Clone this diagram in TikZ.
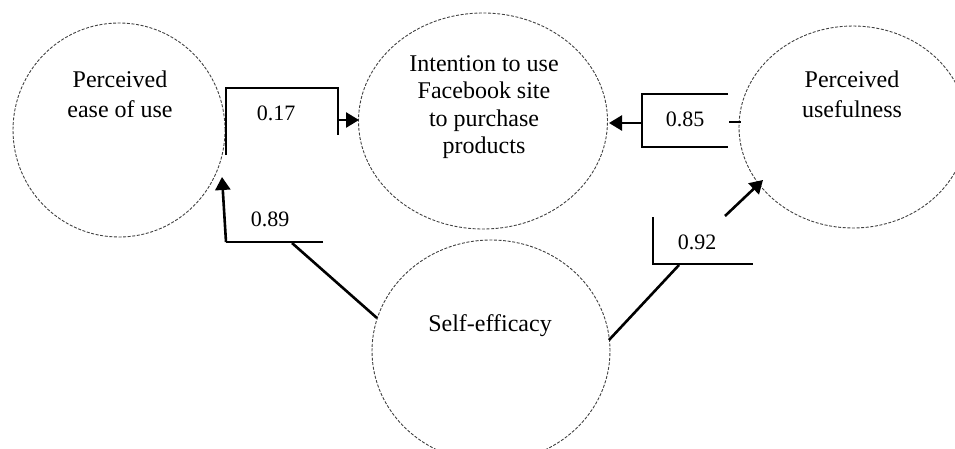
\documentclass[tikz,border=0pt]{standalone}
\usepackage{fontspec}
\setmainfont{Liberation Serif}
\usetikzlibrary{shapes.geometric,arrows.meta}
\tikzset{
  ell/.style={ellipse, draw=black!75, line width=0.9pt, dash pattern=on 3pt off 1.6pt, inner sep=0pt},
  etext/.style={align=center, font=\fontsize{24}{30}\selectfont, inner sep=0pt},
  lab/.style={font=\fontsize{22}{24}\selectfont, inner sep=0pt},
  edge/.style={line width=2.6pt, line cap=butt, line join=miter},
  arr/.style={edge, -{Triangle[length=13pt,width=15pt]}}
}
\begin{document}
\begin{tikzpicture}[x=1pt,y=-1pt]
\useasboundingbox (0,0) rectangle (955,448);
% ellipses
\node[ell, minimum width=212pt, minimum height=214pt] (peou) at (119,130) {};
\node[ell, minimum width=249pt, minimum height=216pt] (intent) at (483,121) {};
\node[ell, minimum width=228pt, minimum height=202pt] (pu) at (853,127) {};
\node[ell, minimum width=238pt, minimum height=222pt] (se) at (491,351) {};
% ellipse texts
\node[etext] (peout) at (120,94) {Perceived\\ease of use};
\node[etext, font=\fontsize{24}{27.5}\selectfont] (intentt) at (484,107) {Intention to use\\Facebook site\\to purchase\\products};
\node[etext] (put) at (852,94) {Perceived\\usefulness};
\node[etext] (set) at (490,326) {Self-efficacy};
% coordinates
\coordinate (a1) at (226,155);
\coordinate (a2) at (226,88);
\coordinate (a3) at (338,88);
\coordinate (a4) at (338,135);
\coordinate (a5) at (338,120);
\coordinate (a6) at (359,120);
\coordinate (b1) at (728,94);
\coordinate (b2) at (642,94);
\coordinate (b3) at (642,147);
\coordinate (b4) at (728,147);
\coordinate (b5) at (642,123);
\coordinate (b6) at (609,123);
\coordinate (b7) at (729,122);
\coordinate (b8) at (741,122);
\coordinate (c1) at (377,318);
\coordinate (c2) at (292,243);
\coordinate (c3) at (323,242);
\coordinate (c4) at (226,242);
\coordinate (c5) at (222,177);
\coordinate (d1) at (609,340);
\coordinate (d2) at (679,265);
\coordinate (d3) at (653,217);
\coordinate (d4) at (653,264);
\coordinate (d5) at (753,264);
\coordinate (d6) at (725,216);
\coordinate (d7) at (763,180);
% box 0.17
\draw[edge] (a1) -- (a2) -- (a3) -- (a4);
\draw[arr] (a5) -- (a6);
\node[lab] (l17) at (276,113) {0.17};
% box 0.85
\draw[edge] (b1) -- (b2) -- (b3) -- (b4);
\draw[arr] (b5) -- (b6);
\draw[edge] (b7) -- (b8);
\node[lab] (l85) at (685,119) {0.85};
% box 0.89
\draw[edge] (c1) -- (c2);
\draw[edge] (c3) -- (c4);
\draw[arr] (c4) -- (c5);
\node[lab] (l89) at (270,219) {0.89};
% box 0.92
\draw[edge] (d1) -- (d2);
\draw[edge] (d3) -- (d4) -- (d5);
\draw[arr] (d6) -- (d7);
\node[lab] (l92) at (697,242) {0.92};
\end{tikzpicture}
\end{document}
